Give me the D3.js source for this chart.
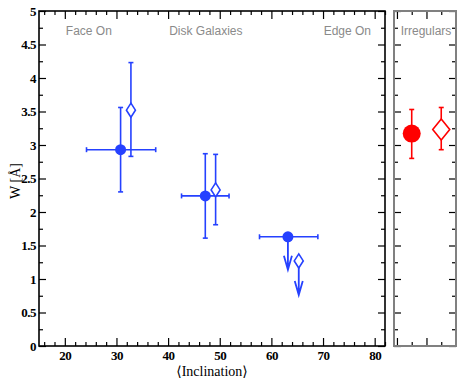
<!DOCTYPE html>
<html>
<head>
<meta charset="utf-8">
<script src="https://cdn.jsdelivr.net/npm/d3@7"></script>
<style>
  body { margin: 0; background: #fff; }
  .note { font-family: "Liberation Sans", Arial, sans-serif; font-size: 12px; fill: #8a8a8a; }
  .title { font-family: "Liberation Serif", "DejaVu Serif", serif; font-size: 14px; fill: #000; }
  .ticklab { font-family: "Liberation Serif", serif; font-weight: bold; font-size: 13px; fill: #000; letter-spacing: -0.5px; }
</style>
</head>
<body>
<div id="chart"></div>
<script>
'use strict';

// disk galaxies, filled circles
const incl_fill = [30.8, 47.2, 63.2];
const incl_fill_lo = [24.2, 42.6, 57.7];
const incl_fill_hi = [37.6, 51.8, 69.0];
const w_fill = [2.93, 2.24, 1.63];
const w_fill_lo = [2.30, 1.61, null];
const w_fill_hi = [3.56, 2.87, null];

// disk galaxies, open diamonds
const incl_open = [32.8, 49.2, 65.3];
const w_open = [3.52, 2.33, 1.27];
const w_open_lo = [2.83, 1.81, null];
const w_open_hi = [4.23, 2.86, null];

// irregulars (filled, open)
const irr_x = [1, 3];
const irr_w = [3.17, 3.23];
const irr_w_lo = [2.80, 2.93];
const irr_w_hi = [3.53, 3.56];

const x_ticks = [20, 30, 40, 50, 60, 70, 80];
const y_ticks = [0, 0.5, 1, 1.5, 2, 2.5, 3, 3.5, 4, 4.5, 5];
const note_text = ['Face On', 'Disk Galaxies', 'Edge On'];
const note_pos = [20.2, 40.2, 79.3];
const note_anchor = ['start', 'start', 'end'];

const blue = '#2541ff';
const red = '#ff0000';

const W = 463, H = 382;
const dim = { left: 39, right: 385, top: 11, bottom: 346, irrLeft: 394, irrRight: 456 };

const svg = d3.select('#chart').append('svg')
    .attr('width', W).attr('height', H);

const x = d3.scaleLinear().domain([15, 82]).range([dim.left, dim.right]);
const y = d3.scaleLinear().domain([0, 5]).range([dim.bottom, dim.top]);
const xi = d3.scaleLinear().domain([-0.2, 4]).range([dim.irrLeft, dim.irrRight]);

function minor(lo, hi, step) {
    return d3.range(lo, hi + step / 2, step);
}

function drawAxis(g, axis) {
    g.call(axis);
    g.select('.domain').remove();
    g.selectAll('.tick line').attr('stroke', '#000').attr('stroke-width', 1.2);
    g.selectAll('.tick text').attr('class', 'ticklab');
}

// main panel ticks
const yMinor = minor(0, 5, 0.25).filter(v => Math.abs(v * 2 - Math.round(v * 2)) > 1e-6);
const xMinor = minor(16, 82, 2).filter(v => v % 10 !== 0);

drawAxis(svg.append('g').attr('transform', `translate(${dim.left},0)`),
    d3.axisLeft(y).tickValues(y_ticks).tickSize(-7).tickPadding(3).tickFormat(d3.format('')));
drawAxis(svg.append('g').attr('transform', `translate(${dim.left},0)`),
    d3.axisLeft(y).tickValues(yMinor).tickSize(-4).tickFormat(''));
drawAxis(svg.append('g').attr('transform', `translate(${dim.right},0)`),
    d3.axisRight(y).tickValues(y_ticks).tickSize(-7).tickFormat(''));
drawAxis(svg.append('g').attr('transform', `translate(${dim.right},0)`),
    d3.axisRight(y).tickValues(yMinor).tickSize(-4).tickFormat(''));
drawAxis(svg.append('g').attr('transform', `translate(0,${dim.bottom})`),
    d3.axisBottom(x).tickValues(x_ticks).tickSize(-8).tickPadding(5));
drawAxis(svg.append('g').attr('transform', `translate(0,${dim.bottom})`),
    d3.axisBottom(x).tickValues(xMinor).tickSize(-4).tickFormat(''));
drawAxis(svg.append('g').attr('transform', `translate(0,${dim.top})`),
    d3.axisTop(x).tickValues(x_ticks).tickSize(-8).tickFormat(''));
drawAxis(svg.append('g').attr('transform', `translate(0,${dim.top})`),
    d3.axisTop(x).tickValues(xMinor).tickSize(-4).tickFormat(''));

svg.append('rect')
    .attr('x', dim.left).attr('y', dim.top)
    .attr('width', dim.right - dim.left).attr('height', dim.bottom - dim.top)
    .attr('fill', 'none').attr('stroke', '#000').attr('stroke-width', 1.6);

// irregulars panel ticks
drawAxis(svg.append('g').attr('transform', `translate(${dim.irrLeft},0)`),
    d3.axisLeft(y).tickValues(y_ticks).tickSize(-7).tickFormat(''));
drawAxis(svg.append('g').attr('transform', `translate(${dim.irrLeft},0)`),
    d3.axisLeft(y).tickValues(yMinor).tickSize(-4).tickFormat(''));
drawAxis(svg.append('g').attr('transform', `translate(${dim.irrRight},0)`),
    d3.axisRight(y).tickValues(y_ticks).tickSize(-7).tickFormat(''));
drawAxis(svg.append('g').attr('transform', `translate(${dim.irrRight},0)`),
    d3.axisRight(y).tickValues(yMinor).tickSize(-4).tickFormat(''));
drawAxis(svg.append('g').attr('transform', `translate(0,${dim.bottom})`),
    d3.axisBottom(xi).tickValues([0, 2]).tickSize(-8).tickFormat(''));
drawAxis(svg.append('g').attr('transform', `translate(0,${dim.bottom})`),
    d3.axisBottom(xi).tickValues([1, 3]).tickSize(-4).tickFormat(''));
drawAxis(svg.append('g').attr('transform', `translate(0,${dim.top})`),
    d3.axisTop(xi).tickValues([0, 2]).tickSize(-8).tickFormat(''));
drawAxis(svg.append('g').attr('transform', `translate(0,${dim.top})`),
    d3.axisTop(xi).tickValues([1, 3]).tickSize(-4).tickFormat(''));

svg.append('rect')
    .attr('x', dim.irrLeft).attr('y', dim.top)
    .attr('width', dim.irrRight - dim.irrLeft).attr('height', dim.bottom - dim.top)
    .attr('fill', 'none').attr('stroke', '#808080').attr('stroke-width', 2);

// labels
svg.selectAll('.note').data(note_text).enter().append('text')
    .attr('class', 'note')
    .attr('x', (d, i) => x(note_pos[i]))
    .attr('y', 35)
    .attr('text-anchor', (d, i) => note_anchor[i])
    .text(d => d);
svg.append('text').attr('class', 'note')
    .attr('x', (dim.irrLeft + dim.irrRight) / 2 + 1).attr('y', 35)
    .attr('text-anchor', 'middle').text('Irregulars');

svg.append('text').attr('class', 'title')
    .attr('transform', 'translate(20,181) rotate(-90)')
    .attr('text-anchor', 'middle')
    .text('W [Å]');
svg.append('text').attr('class', 'title')
    .attr('x', x(48.5)).attr('y', 376)
    .attr('text-anchor', 'middle')
    .text('⟨Inclination⟩');

// marks
const marks = svg.append('g');

function errY(xp, lo, hi, color, cap) {
    const g = marks.append('g').attr('stroke', color).attr('stroke-width', 1.6);
    g.append('line').attr('x1', xp).attr('x2', xp).attr('y1', y(lo)).attr('y2', y(hi));
    [lo, hi].forEach(v => g.append('line')
        .attr('x1', xp - cap).attr('x2', xp + cap).attr('y1', y(v)).attr('y2', y(v)));
}

function errX(lo, hi, yp, color, cap) {
    const g = marks.append('g').attr('stroke', color).attr('stroke-width', 1.6);
    g.append('line').attr('x1', x(lo)).attr('x2', x(hi)).attr('y1', yp).attr('y2', yp);
    [lo, hi].forEach(v => g.append('line')
        .attr('x1', x(v)).attr('x2', x(v)).attr('y1', yp - cap).attr('y2', yp + cap));
}

function arrowDown(xp, yp, len, color) {
    const tip = yp + len;
    marks.append('path')
        .attr('d', `M${xp},${yp}V${tip}M${xp - 4},${tip - 14}L${xp},${tip}L${xp + 4},${tip - 14}`)
        .attr('fill', 'none').attr('stroke', color).attr('stroke-width', 1.8);
}

function diamond(xp, yp, hw, hh, color) {
    marks.append('path')
        .attr('d', `M${xp},${yp - hh}L${xp + hw},${yp}L${xp},${yp + hh}L${xp - hw},${yp}Z`)
        .attr('fill', '#fff').attr('stroke', color).attr('stroke-width', 1.6);
}

incl_fill.forEach((v, i) => {
    const xp = x(v), yp = y(w_fill[i]);
    errX(incl_fill_lo[i], incl_fill_hi[i], yp, blue, 2.5);
    if (w_fill_lo[i] !== null) errY(xp, w_fill_lo[i], w_fill_hi[i], blue, 2.5);
    else arrowDown(xp, yp, 33, blue);
});
incl_open.forEach((v, i) => {
    const xp = x(v), yp = y(w_open[i]);
    if (w_open_lo[i] !== null) errY(xp, w_open_lo[i], w_open_hi[i], blue, 2.5);
    else arrowDown(xp, yp, 34, blue);
});
incl_fill.forEach((v, i) => {
    marks.append('circle').attr('cx', x(v)).attr('cy', y(w_fill[i]))
        .attr('r', 5.5).attr('fill', blue);
});
incl_open.forEach((v, i) => diamond(x(v), y(w_open[i]), 4.5, 7, blue));

// irregulars
irr_x.forEach((v, i) => errY(xi(v), irr_w_lo[i], irr_w_hi[i], red, 2.5));
marks.append('circle').attr('cx', xi(irr_x[0])).attr('cy', y(irr_w[0]))
    .attr('r', 9).attr('fill', red);
diamond(xi(irr_x[1]), y(irr_w[1]), 8.5, 10.5, red);
</script>
</body>
</html>
